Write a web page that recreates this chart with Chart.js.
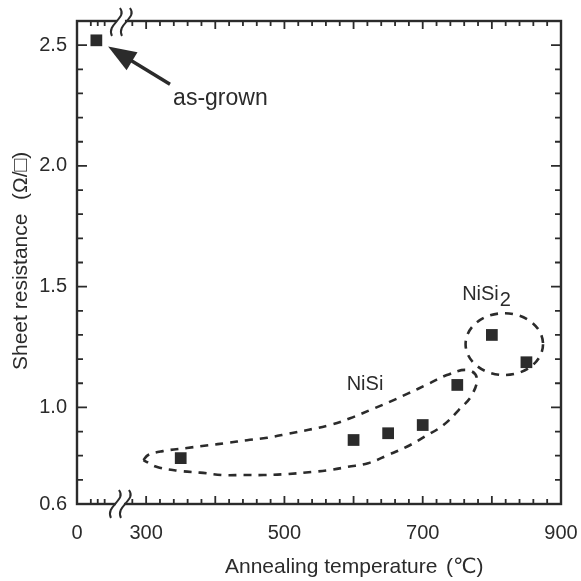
<!DOCTYPE html>
<html>
<head>
<meta charset="utf-8">
<script src="https://cdn.jsdelivr.net/npm/chart.js@4.4.1/dist/chart.umd.min.js"></script>
<style>
  html, body { margin: 0; padding: 0; background: #fff; }
  canvas { display: block; }
</style>
</head>
<body>
<canvas id="grafico" width="581" height="581"></canvas>
<script>
// values
const asGrownTemp = [28];   // sits on the short "0" piece left of the axis break
const asGrownRes = [2.52];
const annealTemps = [350, 600, 650, 700, 750, 800, 850];
const sheetRes = [0.79, 0.865, 0.893, 0.927, 1.093, 1.30, 1.187];

const xTickLabels = [0, 300, 500, 700, 900];
const yTickLabels = [0.6, 1.0, 1.5, 2.0, 2.5];

// dashed loop drawn around the NiSi points (temperature, resistance)
const niSiLoopT = [296, 303, 324, 359, 390, 417, 446, 475, 504, 566, 595, 624, 653, 679, 708, 735, 764, 778,
  771, 752, 730, 703, 677, 650, 621, 592, 566, 541, 504, 470, 440, 411, 378, 349, 316, 296];
const niSiLoopR = [0.782, 0.803, 0.819, 0.832, 0.843, 0.853, 0.864, 0.874, 0.890, 0.927, 0.955, 0.989, 1.024, 1.058, 1.097, 1.134, 1.155, 1.125,
  1.051, 0.989, 0.927, 0.879, 0.837, 0.803, 0.769, 0.754, 0.741, 0.733, 0.724, 0.720, 0.720, 0.720, 0.730, 0.737, 0.753, 0.782];

// the low segment (as-grown) is drawn shifted so that 0 lands on the axis start
const breakShift = 200;
const breakAt = 265;
const onAxis = (t) => (t < 300 ? t + breakShift : t);

const ink = "#2b2b2b";
const fam = '"Liberation Sans", Arial, "DejaVu Sans", sans-serif';

const px = (chart, t, r) => [chart.scales.x.getPixelForValue(t), chart.scales.y.getPixelForValue(r)];

function wave(ctx, cx, cy) {
  const one = (o) => {
    ctx.moveTo(cx + o + 4, cy - 14);
    ctx.bezierCurveTo(cx + o + 12, cy - 4, cx + o - 10, cy + 2, cx + o - 4, cy + 14);
  };
  ctx.fillStyle = "#fff";
  ctx.fillRect(cx - 4, cy - 3, 8, 6);
  ctx.beginPath();
  one(-5);
  one(5);
  ctx.stroke();
}

const moldura = {
  id: "moldura",
  beforeDatasetsDraw(chart) {
    const { ctx, chartArea: a, scales: { x, y } } = chart;
    ctx.save();
    ctx.strokeStyle = ink;
    ctx.lineWidth = 1.8;
    ctx.beginPath();
    // x ticks, pointing inwards on bottom and top
    const xt = [220, 230, 240];
    for (let v = 280; v < 900; v += 20) xt.push(v);
    xt.forEach((v) => {
      const p = x.getPixelForValue(v);
      const len = v % 100 === 0 ? 8 : 5;
      ctx.moveTo(p, a.bottom); ctx.lineTo(p, a.bottom - len);
      ctx.moveTo(p, a.top); ctx.lineTo(p, a.top + len);
    });
    // y ticks every 0.1, long at labelled values
    for (let i = 7; i <= 25; i++) {
      const v = i / 10;
      const p = y.getPixelForValue(v);
      const len = i % 5 === 0 ? 10 : 6;
      ctx.moveTo(a.left, p); ctx.lineTo(a.left + len, p);
      ctx.moveTo(a.right, p); ctx.lineTo(a.right - len, p);
    }
    ctx.stroke();
    ctx.lineWidth = 2.4;
    ctx.strokeRect(a.left, a.top, a.width, a.height);

    ctx.lineWidth = 2;
    const bx = x.getPixelForValue(breakAt);
    wave(ctx, bx - 1, a.top + 1);
    wave(ctx, bx - 2, a.bottom);
    ctx.restore();
  },
  afterDatasetsDraw(chart) {
    const { ctx } = chart;
    ctx.save();
    ctx.strokeStyle = ink;
    ctx.fillStyle = ink;

    // NiSi2 dashed ellipse
    const [ex, ey] = px(chart, 818, 1.262);
    const rx = chart.scales.x.getPixelForValue(818 + 56) - ex;
    const ry = ey - chart.scales.y.getPixelForValue(1.262 + 0.128);
    ctx.lineWidth = 2.6;
    ctx.setLineDash([8, 7]);
    ctx.beginPath();
    ctx.ellipse(ex, ey, rx, ry, 0, 0, Math.PI * 2);
    ctx.stroke();
    ctx.setLineDash([]);

    // arrow to the as-grown point
    const [tx, ty] = px(chart, 245, 2.494);
    const [sx, sy] = px(chart, 334.5, 2.338);
    const ang = Math.atan2(ty - sy, tx - sx);
    const hl = 28, hw = 10.5;
    const bxp = tx - hl * Math.cos(ang), byp = ty - hl * Math.sin(ang);
    ctx.lineWidth = 3.5;
    ctx.beginPath();
    ctx.moveTo(sx, sy);
    ctx.lineTo(bxp + 4 * Math.cos(ang), byp + 4 * Math.sin(ang));
    ctx.stroke();
    ctx.beginPath();
    ctx.moveTo(tx, ty);
    ctx.lineTo(bxp + hw * Math.sin(ang), byp - hw * Math.cos(ang));
    ctx.lineTo(bxp - hw * Math.sin(ang), byp + hw * Math.cos(ang));
    ctx.closePath();
    ctx.fill();

    // labels
    ctx.textBaseline = "alphabetic";
    ctx.textAlign = "left";
    ctx.font = "23px " + fam;
    let [lx, ly] = px(chart, 339, 2.252);
    ctx.fillText("as-grown", lx, ly);
    ctx.font = "20px " + fam;
    [lx, ly] = px(chart, 590, 1.072);
    ctx.fillText("NiSi", lx, ly);
    [lx, ly] = px(chart, 757, 1.445);
    ctx.fillText("NiSi", lx, ly);
    const w = ctx.measureText("NiSi").width;
    ctx.fillText("2", lx + w + 1, ly + 6);

    // axis titles
    ctx.font = "21px " + fam;
    ctx.fillText("Annealing temperature", 225, 573);
    ctx.fillText("(\u2103)", 446, 573);
    ctx.save();
    ctx.translate(27, 370);
    ctx.rotate(-Math.PI / 2);
    ctx.fillText("Sheet resistance", 0, 0);
    ctx.fillText("(\u03A9/\u25A1)", 170, 0);
    ctx.restore();

    ctx.restore();
  },
};

const ctx = document.getElementById("grafico").getContext("2d");

new Chart(ctx, {
  type: "scatter",
  data: {
    datasets: [
      {
        data: asGrownTemp.map((t, i) => ({ x: onAxis(t), y: asGrownRes[i] })),
        pointStyle: "rect",
        pointRadius: 8.3,
        backgroundColor: ink,
        borderWidth: 0,
      },
      {
        data: annealTemps.map((t, i) => ({ x: onAxis(t), y: sheetRes[i] })),
        pointStyle: "rect",
        pointRadius: 8.3,
        backgroundColor: ink,
        borderWidth: 0,
      },
      {
        data: niSiLoopT.map((t, i) => ({ x: t, y: niSiLoopR[i] })),
        showLine: true,
        tension: 0.4,
        pointRadius: 0,
        borderColor: ink,
        borderWidth: 2.6,
        borderDash: [8, 7],
        fill: false,
      },
    ],
  },
  options: {
    responsive: false,
    animation: false,
    devicePixelRatio: 1,
    layout: { padding: { left: 0, top: 21, right: 20, bottom: 0 } },
    plugins: { legend: { display: false }, tooltip: { enabled: false } },
    scales: {
      x: {
        type: "linear",
        min: 200,
        max: 900,
        grid: { display: false, drawTicks: false },
        border: { display: false },
        afterBuildTicks(scale) {
          scale.ticks = xTickLabels.map((v) => ({ value: onAxis(v) }));
        },
        afterFit(scale) {
          scale.height = 77;
          scale.paddingLeft = 0;
          scale.paddingRight = 0;
        },
        ticks: {
          color: ink,
          font: { size: 20, family: fam },
          padding: 17,
          maxRotation: 0,
          callback: (v) => String(v >= 300 ? v : v - breakShift),
        },
      },
      y: {
        type: "linear",
        min: 0.6,
        max: 2.6,
        grid: { display: false, drawTicks: false },
        border: { display: false },
        afterBuildTicks(scale) {
          scale.ticks = yTickLabels.map((v) => ({ value: v }));
        },
        afterFit(scale) {
          scale.width = 77;
          scale.paddingTop = 0;
          scale.paddingBottom = 0;
        },
        ticks: {
          color: ink,
          font: { size: 20, family: fam },
          padding: 10,
          callback: (v) => v.toFixed(1),
        },
      },
    },
  },
  plugins: [moldura],
});
</script>
</body>
</html>
